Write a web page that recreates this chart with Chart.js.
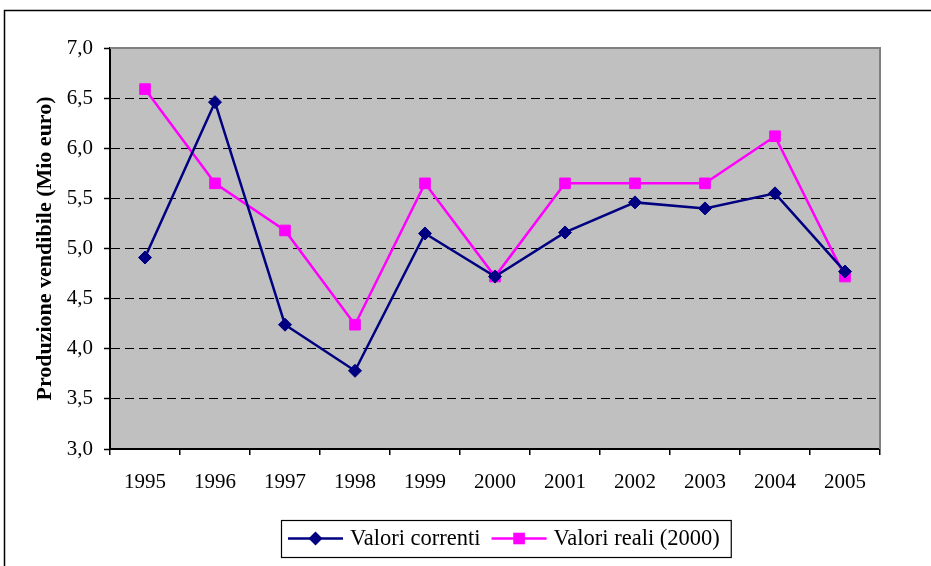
<!DOCTYPE html>
<html>
<head>
<meta charset="utf-8">
<script src="https://cdn.jsdelivr.net/npm/chart.js@4.4.0/dist/chart.umd.min.js"></script>
<style>
  html, body { margin: 0; padding: 0; background: #fff; }
</style>
</head>
<body>
<canvas id="chart" width="931" height="566"></canvas>
<script>
// data
const years = ['1995', '1996', '1997', '1998', '1999', '2000', '2001', '2002', '2003', '2004', '2005'];
const valoriCorrenti = [4.91, 6.46, 4.24, 3.78, 5.15, 4.72, 5.16, 5.46, 5.40, 5.55, 4.77];
const valoriReali = [6.59, 5.65, 5.18, 4.24, 5.65, 4.72, 5.65, 5.65, 5.65, 6.12, 4.72];
const seriesNames = ['Valori correnti', 'Valori reali (2000)'];
const yTitle = 'Produzione vendibile (Mio euro)';

const serif = "'Liberation Serif', 'Times New Roman', serif";
const navy = '#000080';
const magenta = '#FF00FF';

// background, outer frame and gray plot area
const framePlugin = {
  id: 'frame',
  beforeDraw(chart) {
    const { ctx, chartArea: a } = chart;
    ctx.save();
    ctx.fillStyle = '#fff';
    ctx.fillRect(0, 0, chart.width, chart.height);
    ctx.strokeStyle = '#000';
    ctx.lineWidth = 1.5;
    ctx.beginPath();
    ctx.moveTo(4.5, chart.height);
    ctx.lineTo(4.5, 10.5);
    ctx.lineTo(chart.width, 10.5);
    ctx.stroke();
    ctx.fillStyle = '#C0C0C0';
    ctx.fillRect(a.left, a.top, a.right - a.left, a.bottom - a.top);
    ctx.restore();
  },
  beforeDatasetsDraw(chart) {
    const { ctx, chartArea: a } = chart;
    ctx.save();
    ctx.strokeStyle = '#808080';
    ctx.lineWidth = 2;
    ctx.beginPath();
    ctx.moveTo(a.left, a.top);
    ctx.lineTo(a.right, a.top);
    ctx.lineTo(a.right, a.bottom);
    ctx.stroke();
    ctx.restore();
  }
};

// boxed legend with line + marker samples
const legendPlugin = {
  id: 'boxLegend',
  afterDraw(chart) {
    const ctx = chart.ctx;
    const left = 281, top = 520, h = 37;
    const cy = top + h / 2;
    ctx.save();
    ctx.font = '22.5px ' + serif;
    ctx.textBaseline = 'middle';
    let x = left + 7;
    chart.data.datasets.forEach((ds, i) => {
      ctx.strokeStyle = ds.borderColor;
      ctx.lineWidth = ds.borderWidth;
      ctx.beginPath();
      ctx.moveTo(x, cy);
      ctx.lineTo(x + 55, cy);
      ctx.stroke();
      const mx = x + 27.5;
      ctx.fillStyle = ds.pointBackgroundColor;
      ctx.beginPath();
      if (ds.pointStyle === 'rectRot') {
        const r = ds.pointRadius + 0.5;
        ctx.moveTo(mx - r, cy); ctx.lineTo(mx, cy - r); ctx.lineTo(mx + r, cy); ctx.lineTo(mx, cy + r);
        ctx.closePath();
      } else {
        const s = ds.pointRadius * Math.SQRT1_2 + 0.5;
        ctx.rect(mx - s, cy - s, 2 * s, 2 * s);
      }
      ctx.fill();
      x += 55 + 7;
      ctx.fillStyle = '#000';
      ctx.fillText(ds.label, x, cy + 1);
      x += ctx.measureText(ds.label).width + 11;
    });
    const right = x - 11 + 11;
    ctx.strokeStyle = '#000';
    ctx.lineWidth = 1.2;
    ctx.strokeRect(left + 0.5, top + 0.5, right - left, h);
    ctx.restore();
  }
};

new Chart(document.getElementById('chart'), {
  type: 'line',
  data: {
    labels: years,
    datasets: [
      {
        label: seriesNames[0],
        data: valoriCorrenti,
        borderColor: navy,
        borderWidth: 2.5,
        pointStyle: 'rectRot',
        pointRadius: 6.5,
        pointBackgroundColor: navy,
        pointBorderColor: navy,
        pointBorderWidth: 1,
        tension: 0
      },
      {
        label: seriesNames[1],
        data: valoriReali,
        borderColor: magenta,
        borderWidth: 2.5,
        pointStyle: 'rect',
        pointRadius: 7.5,
        pointBackgroundColor: magenta,
        pointBorderColor: magenta,
        pointBorderWidth: 1,
        tension: 0
      }
    ]
  },
  options: {
    responsive: false,
    animation: false,
    layout: { padding: { top: 48, right: 51, bottom: 67, left: 0 } },
    plugins: {
      legend: { display: false },
      tooltip: { enabled: false }
    },
    scales: {
      x: {
        offset: true,
        afterFit(s) { s.height = 50; },
        grid: {
          offset: true,
          drawOnChartArea: false,
          tickLength: 6,
          tickColor: '#000',
          lineWidth: 1.5
        },
        border: { color: '#000', width: 2 },
        ticks: {
          color: '#000',
          padding: 15,
          font: { family: serif, size: 21 },
          maxRotation: 0
        }
      },
      y: {
        min: 3,
        max: 7,
        afterFit(s) { s.width = 110; },
        ticks: {
          stepSize: 0.5,
          color: '#000',
          padding: 11,
          font: { family: serif, size: 21 },
          callback: v => v.toFixed(1).replace('.', ',')
        },
        grid: {
          color: c => (c.tick && (c.tick.value === 3 || c.tick.value === 7)) ? 'rgba(0,0,0,0)' : '#000',
          lineWidth: 1,
          tickLength: 6,
          tickColor: '#000',
          tickWidth: 1.5,
          tickBorderDash: []
        },
        border: { color: '#000', width: 2, dash: [9, 5] },
        title: {
          display: true,
          text: yTitle,
          color: '#000',
          padding: { top: 32, bottom: 0 },
          font: { family: serif, size: 22, weight: 'bold' }
        }
      }
    }
  },
  plugins: [framePlugin, legendPlugin]
});
</script>
</body>
</html>
